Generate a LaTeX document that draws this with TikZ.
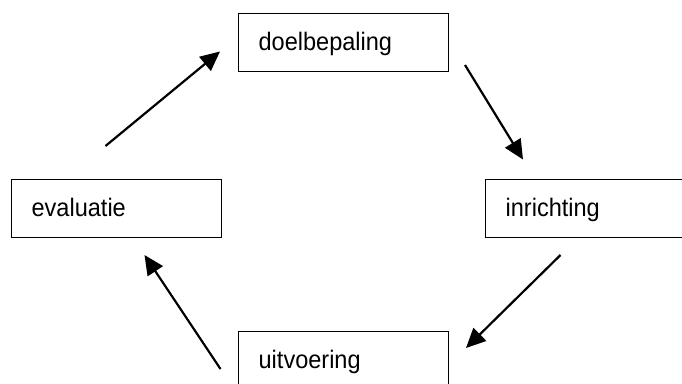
\documentclass[tikz,border=0pt]{standalone}
\usepackage{fontspec}
\setmainfont{Liberation Sans}[FakeStretch=0.93]
\usetikzlibrary{arrows.meta}
\begin{document}
\begin{tikzpicture}[x=1pt,y=-1pt,
  stagebox/.style={draw=black, line width=1.3pt, rectangle, anchor=north west,
    minimum width=210pt, minimum height=58pt, inner xsep=20pt, inner ysep=0pt,
    text width=170pt, align=left, text height=18pt, text depth=2pt,
    font=\fontsize{25.3}{28}\selectfont},
  flow/.style={line width=2.2pt, -{Triangle[length=19.5pt,width=18pt]}}]
\useasboundingbox[fill=white] (0,0) rectangle (682,383);
\node[stagebox] (doel) at (238,13) {doelbepaling};
\node[stagebox] (inr) at (485,179) {inrichting};
\node[stagebox] (eval) at (11,179) {evaluatie};
\node[stagebox] (uit) at (238,331) {uitvoering};
\coordinate (a1s) at (105.5,146);
\coordinate (a1e) at (220,51.5);
\coordinate (a2s) at (465,65);
\coordinate (a2e) at (523,159.5);
\coordinate (a3s) at (560.5,255);
\coordinate (a3e) at (466,348);
\coordinate (a4s) at (220.5,369);
\coordinate (a4e) at (144.5,255);
\draw[flow] (a1s) -- (a1e);
\draw[flow] (a2s) -- (a2e);
\draw[flow] (a3s) -- (a3e);
\draw[flow] (a4s) -- (a4e);
\end{tikzpicture}
\end{document}
